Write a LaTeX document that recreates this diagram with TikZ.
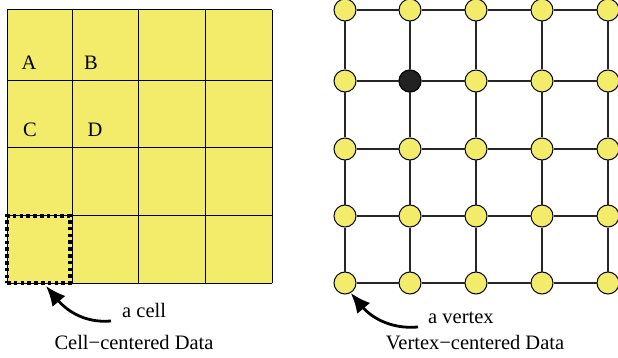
\documentclass[tikz,border=0pt]{standalone}
\usepackage{fontspec}
\setmainfont{Liberation Serif}
\usetikzlibrary{arrows.meta}
\definecolor{cellyellow}{RGB}{242,236,106}
\definecolor{darkvertex}{RGB}{34,34,34}
\begin{document}
\begin{tikzpicture}[x=1pt,y=-1pt,
  gridline/.style={black, line width=1pt},
  vertexdot/.style={circle, draw=black, line width=1pt, fill=cellyellow,
    minimum size=22pt, inner sep=0pt},
  selected/.style={fill=darkvertex},
  edge/.style={black!85, line width=1.4pt},
  pointer/.style={-{Latex[length=20pt,width=17pt]}, line width=2.8pt},
  caption/.style={font=\fontsize{20.5}{24}\selectfont, inner sep=0pt},
  dottedcell/.style={draw=black, line width=3.6pt, dash pattern=on 3.6pt off 3.2pt,
    inner sep=0pt, outer sep=0pt, minimum width=63pt, minimum height=67pt}
]
\useasboundingbox (0,0) rectangle (618,358);

% cell-centered grid
\fill[cellyellow] (7,10) rectangle (272,283);
\foreach \x in {7,72,138,205,272} \draw[gridline] (\x,10) -- (\x,283);
\foreach \y in {10,81,148,215,283} \draw[gridline] (7,\y) -- (272,\y);

\node[caption, anchor=base] (la) at (29,70) {A};
\node[caption, anchor=base] (lb) at (91,70) {B};
\node[caption, anchor=base] (lc) at (30,137) {C};
\node[caption, anchor=base] (ld) at (95,137) {D};

\node[dottedcell, anchor=north west] (cell) at (7,216) {};
\coordinate (celltip) at (46,286);

\node[caption, anchor=base west] (cellnote) at (122,317) {a cell};
\draw[pointer] ([xshift=-11pt,yshift=-4pt]cellnote.base west)
  to[out=185,in=-50] (celltip);
\node[caption, anchor=base] (cellcap) at (134,349) {Cell−centered Data};

% vertex-centered grid
\foreach \i/\x in {1/345,2/410,3/476,4/542,5/608}{
  \foreach \j/\y in {1/10,2/81,3/149,4/216,5/283}{
    \node[vertexdot] (v\i\j) at (\x,\y) {};
  }
}
\node[vertexdot, selected] (v22) at (410,81) {};

% horizontal and vertical links between neighbouring vertices
\foreach \i in {1,2,3,4,5}{
  \foreach \j/\k in {1/2,2/3,3/4,4/5}{
    \draw[edge] (v\i\j) -- (v\i\k);
    \draw[edge] (v\j\i) -- (v\k\i);
  }
}

\node[caption, anchor=base west] (vertexnote) at (428,323) {a vertex};
\draw[pointer] ([xshift=-10pt,yshift=-4pt]vertexnote.base west)
  to[out=185,in=-50] (v15.-60);
\node[caption, anchor=base] (vertexcap) at (475,349) {Vertex−centered Data};
\end{tikzpicture}
\end{document}
